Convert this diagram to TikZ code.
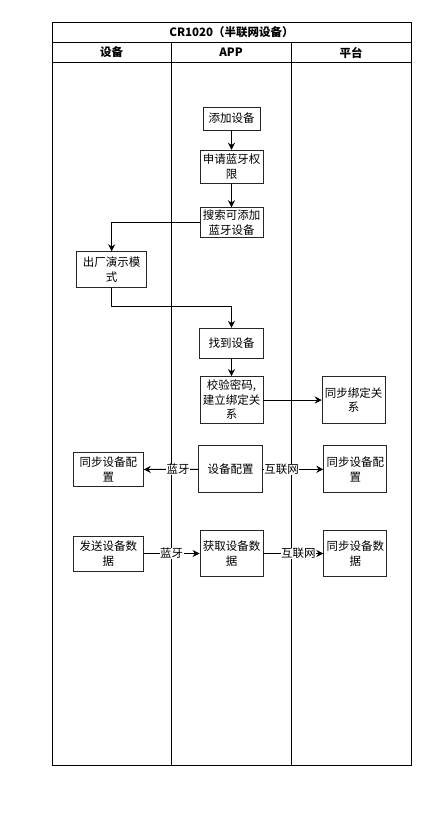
\documentclass[tikz,border=0pt]{standalone}
\usepackage{fontspec}
\setmainfont{Noto Sans CJK SC}
\usetikzlibrary{arrows.meta}
\tikzset{
  box/.style={draw=black!85, line width=0.9pt, inner sep=0pt, align=center,
    font=\fontsize{11.5}{14.5}\selectfont},
  head/.style={font=\fontsize{11.5}{14}\selectfont\bfseries, inner sep=0pt},
  tag/.style={fill=white, inner sep=0.5pt, font=\fontsize{11.5}{14}\selectfont},
  lane/.style={line width=0.9pt}
}
\begin{document}
\begin{tikzpicture}[x=1pt, y=-1pt, >={Stealth[length=7pt,width=7pt]}]
      \useasboundingbox (0,0) rectangle (439,815);
      % swimlanes
      \draw[lane] (52,22) rectangle (411,765);
      \draw[lane] (52,42) -- (411,42);
      \draw[lane] (52,62) -- (411,62);
      \draw[lane] (171,42) -- (171,765);
      \draw[lane] (291,42) -- (291,765);
      \draw
        (231.5,32) node[head] (title){CR1020（半联网设备）}
        (111.5,52.5) node[head] (dev){设备}
        (231,52.5) node[head] (app){APP}
        (351,52.5) node[head] (plat){平台};
      % steps
      \draw
        (231.5,118.5) node[box, minimum width=57pt, minimum height=23pt] (add){添加设备}
        (231.5,166.7) node[box, minimum width=63pt, minimum height=33pt] (req){申请蓝牙权\\限}
        (231.5,222.7) node[box, minimum width=63pt, minimum height=30pt] (search){搜索可添加\\蓝牙设备}
        (111.7,269.7) node[box, minimum width=70pt, minimum height=36pt] (demo){出厂演示模\\式}
        (231.5,343.3) node[box, minimum width=64pt, minimum height=30pt] (find){找到设备}
        (231.5,400) node[box, minimum width=63pt, minimum height=47pt] (verify){校验密码,\\建立绑定关\\系}
        (353.7,400) node[box, minimum width=63pt, minimum height=47pt] (bind){同步绑定关\\系}
        (230.5,469.3) node[box, minimum width=64pt, minimum height=47pt] (cfg){设备配置}
        (108.3,469.5) node[box, minimum width=70pt, minimum height=34pt] (cfgL){同步设备配\\置}
        (355.3,469.3) node[box, minimum width=63pt, minimum height=47pt] (cfgR){同步设备配\\置}
        (108.3,553.5) node[box, minimum width=70pt, minimum height=35pt] (send){发送设备数\\据}
        (231.5,553.5) node[box, minimum width=63pt, minimum height=46pt] (get){获取设备数\\据}
        (355.3,553.5) node[box, minimum width=63pt, minimum height=46pt] (data){同步设备数\\据};
      \coordinate (bend) at (231.5,306.7);
      \begin{scope}[->, line width=0.9pt]
        \draw (add) to (req);
        \draw (req) to (search);
        \draw (search.west) -| (demo.north);
        \draw (demo.south) |- (bend) -- (find.north);
        \draw (find) to (verify);
        \draw (verify) to (bind);
        \draw (cfg) -- (178,469.3) node[tag] (bt1){蓝牙} -- (cfgL);
        \draw (cfg) -- (281.7,469.3) node[tag] (net1){互联网} -- (cfgR);
        \draw (send) -- (171.7,553.5) node[tag] (bt2){蓝牙} -- (get);
        \draw (get) -- (298.3,553.5) node[tag] (net2){互联网} -- (data);
      \end{scope}
    \end{tikzpicture}
\end{document}
